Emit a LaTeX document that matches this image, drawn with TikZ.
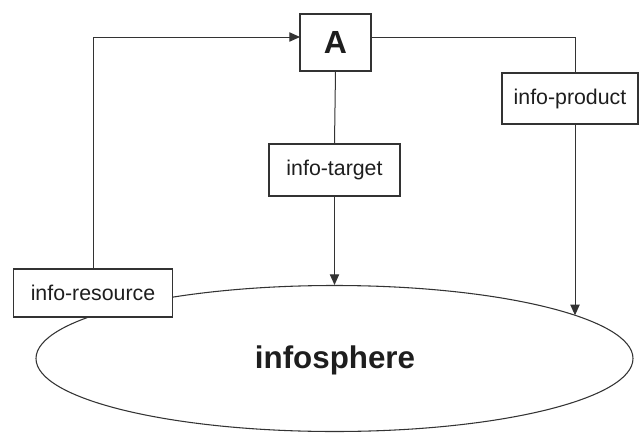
\documentclass[tikz,border=0pt]{standalone}
\usepackage{fontspec}
\setmainfont{Liberation Sans}
\usetikzlibrary{shapes.geometric,arrows.meta}
\definecolor{ln}{HTML}{333333}
\definecolor{tx}{HTML}{1E1E1E}
\begin{document}
\begin{tikzpicture}[x=0.75pt,y=-0.75pt,
  box/.style={draw=ln,line width=0.9pt,fill=white,inner sep=0pt,text=tx,font=\fontsize{16}{18}\selectfont},
  conn/.style={draw=ln,line width=0.75pt},
  arr/.style={conn,-{Triangle[length=8pt,width=7pt]}}]
\useasboundingbox (0,0) rectangle (639,432);
\node[ellipse,draw=ln,line width=0.8pt,minimum width=447.75pt,minimum height=109.5pt,inner sep=0pt] (sphere) at (334.5,358.5) {};
\node[text=tx,font=\fontsize{23.5}{26}\selectfont\bfseries] (sphtxt) at (335,360) {infosphere};
\node[box,minimum width=53.25pt,minimum height=42.75pt,font=\fontsize{24}{26}\selectfont\bfseries] (A) at (335.5,42.5) {A};
\node[box,minimum width=98.25pt,minimum height=39pt] (tgt) at (334.5,170) {info-target};
\node[box,minimum width=102pt,minimum height=38.25pt] (prod) at (570,98.5) {info-product};
\node[box,minimum width=119.25pt,minimum height=36pt] (res) at (93,293) {info-resource};
\coordinate (ain) at (300,37);
\coordinate (aout) at (371,37);
\coordinate (pe) at (575,315.3);
\coordinate (prodtop) at (575,73);
\coordinate (prodbot) at (575,124);
\draw[arr] (res.north) |- (ain);
\draw[conn] (aout) -| (prodtop);
\draw[arr] (prodbot) -- (pe);
\draw[conn] (A.south) -- (tgt.north);
\draw[arr] (tgt.south) -- (sphere.north);
\end{tikzpicture}
\end{document}
